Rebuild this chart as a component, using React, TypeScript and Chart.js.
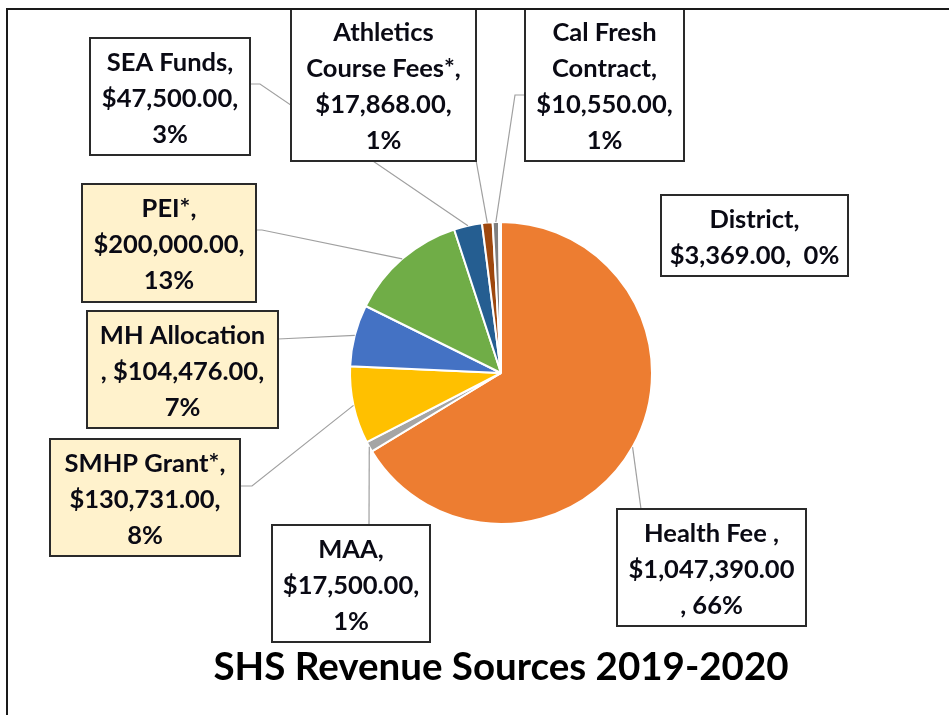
import React, { useEffect, useRef } from "react";
import { Chart, registerables } from "chart.js";

Chart.register(...registerables);

// ---- data ----
const categories = [
  "Health Fee",
  "MAA",
  "SMHP Grant*",
  "MH Allocation",
  "PEI*",
  "SEA Funds",
  "Athletics Course Fees*",
  "Cal Fresh Contract",
  "District",
];
const revenue = [1047390, 17500, 130731, 104476, 200000, 47500, 17868, 10550, 3369];
const sliceColors = [
  "#ED7D31",
  "#A5A5A5",
  "#FFC000",
  "#4472C4",
  "#70AD47",
  "#255E91",
  "#9E480E",
  "#7F7F7F",
  "#997300",
];
const chartTitle = "SHS Revenue Sources 2019-2020";

// label text templates ({v} = value, {p} = percent)
const labelLines = [
  ["Health Fee ,", "{v}", ", {p}"],
  ["MAA,", "{v},", "{p}"],
  ["SMHP Grant*,", "{v},", "{p}"],
  ["MH Allocation", ", {v},", "{p}"],
  ["PEI*,", "{v},", "{p}"],
  ["SEA Funds,", "{v},", "{p}"],
  ["Athletics", "Course Fees*,", "{v},", "{p}"],
  ["Cal Fresh", "Contract,", "{v},", "{p}"],
  ["District,", "{v},  {p}"],
];

// ---- label layout (positions/styles) ----
const labelLayout = [
  { box: [617, 509, 189, 117], fill: "#FFFFFF", leader: [[641, 509]] },
  { box: [272, 525, 158, 117], fill: "#FFFFFF", leader: [[369, 525]] },
  { box: [50, 439, 190, 117], fill: "#FFF2CC", leader: [[240, 486], [252, 486]] },
  { box: [87, 311, 191, 117], fill: "#FFF2CC", leader: [[278, 339]] },
  { box: [82, 184, 174, 118], fill: "#FFF2CC", leader: [[256, 230], [262, 230]] },
  { box: [90, 38, 160, 117], fill: "#FFFFFF", leader: [[250, 84], [260, 84]] },
  { box: [291, 9, 185, 152], fill: "#FFFFFF", leader: [[476, 160]] },
  { box: [525, 9, 159, 152], fill: "#FFFFFF", leader: [[525, 95], [515, 95]] },
  { box: [661, 195, 187, 81], fill: "#FFFFFF", leader: null },
];

const LABEL_FONT = "bold 25.5px Lato, 'Open Sans', sans-serif";
const TITLE_FONT = "bold 38.5px Lato, 'Open Sans', sans-serif";
const LINE_H = 36;

function fmtMoney(v: number) {
  return (
    "$" +
    v.toLocaleString("en-US", { minimumFractionDigits: 2, maximumFractionDigits: 2 })
  );
}

const overlayPlugin = {
  id: "overlay",
  afterDatasetsDraw(chart: any) {
    const ctx = chart.ctx as CanvasRenderingContext2D;
    const meta = chart.getDatasetMeta(0);
    const total = revenue.reduce((a, b) => a + b, 0);
    ctx.save();

    // leader lines
    ctx.strokeStyle = "#A0A0A0";
    ctx.lineWidth = 1.2;
    meta.data.forEach((arc: any, i: number) => {
      const lay = labelLayout[i];
      if (!lay.leader) return;
      const p = arc.getProps(["x", "y", "startAngle", "endAngle", "outerRadius"], true);
      const mid = (p.startAngle + p.endAngle) / 2;
      const ex = p.x + Math.cos(mid) * p.outerRadius;
      const ey = p.y + Math.sin(mid) * p.outerRadius;
      ctx.beginPath();
      ctx.moveTo(lay.leader[0][0], lay.leader[0][1]);
      for (let k = 1; k < lay.leader.length; k++) ctx.lineTo(lay.leader[k][0], lay.leader[k][1]);
      ctx.lineTo(ex, ey);
      ctx.stroke();
    });

    // label boxes
    ctx.font = LABEL_FONT;
    ctx.textAlign = "center";
    ctx.textBaseline = "middle";
    revenue.forEach((v, i) => {
      const lay = labelLayout[i];
      const [x, y, w, h] = lay.box;
      ctx.fillStyle = lay.fill;
      ctx.fillRect(x, y, w, h);
      ctx.strokeStyle = "#2A2A2A";
      ctx.lineWidth = 2;
      ctx.strokeRect(x, y, w, h);
      const pct = Math.round((v / total) * 100) + "%";
      const lines = labelLines[i].map((t) => t.replace("{v}", fmtMoney(v)).replace("{p}", pct));
      const cx = x + w / 2;
      const cy = y + h / 2 + 2;
      ctx.fillStyle = "#0A0A14";
      lines.forEach((ln, k) => {
        ctx.fillText(ln, cx, cy + (k - (lines.length - 1) / 2) * LINE_H);
      });
    });

    // title
    ctx.font = TITLE_FONT;
    ctx.fillStyle = "#000000";
    ctx.fillText(chartTitle, 501, 668);

    // outer frame
    ctx.strokeStyle = "#1A1A1A";
    ctx.lineWidth = 2;
    ctx.strokeRect(7, 9, 1000, 1000);
    ctx.restore();
  },
};

export default function App() {
  const ref = useRef<HTMLCanvasElement | null>(null);
  useEffect(() => {
    document.body.style.margin = "0";
    if (!ref.current) return;
    const chart = new Chart(ref.current, {
      type: "pie",
      data: {
        labels: categories,
        datasets: [
          {
            data: revenue,
            backgroundColor: sliceColors,
            borderColor: "#FFFFFF",
            borderWidth: 2,
          },
        ],
      },
      options: {
        responsive: false,
        animation: false,
        layout: { padding: { left: 349, top: 221, right: 296, bottom: 190 } },
        plugins: {
          legend: { display: false },
          tooltip: { enabled: false },
          title: { display: false },
        },
      },
      plugins: [overlayPlugin],
    });
    return () => chart.destroy();
  }, []);
  return (
    <div style={{ width: 949, height: 715, background: "#fff" }}>
      <canvas ref={ref} width={949} height={715} style={{ display: "block" }} />
    </div>
  );
}
